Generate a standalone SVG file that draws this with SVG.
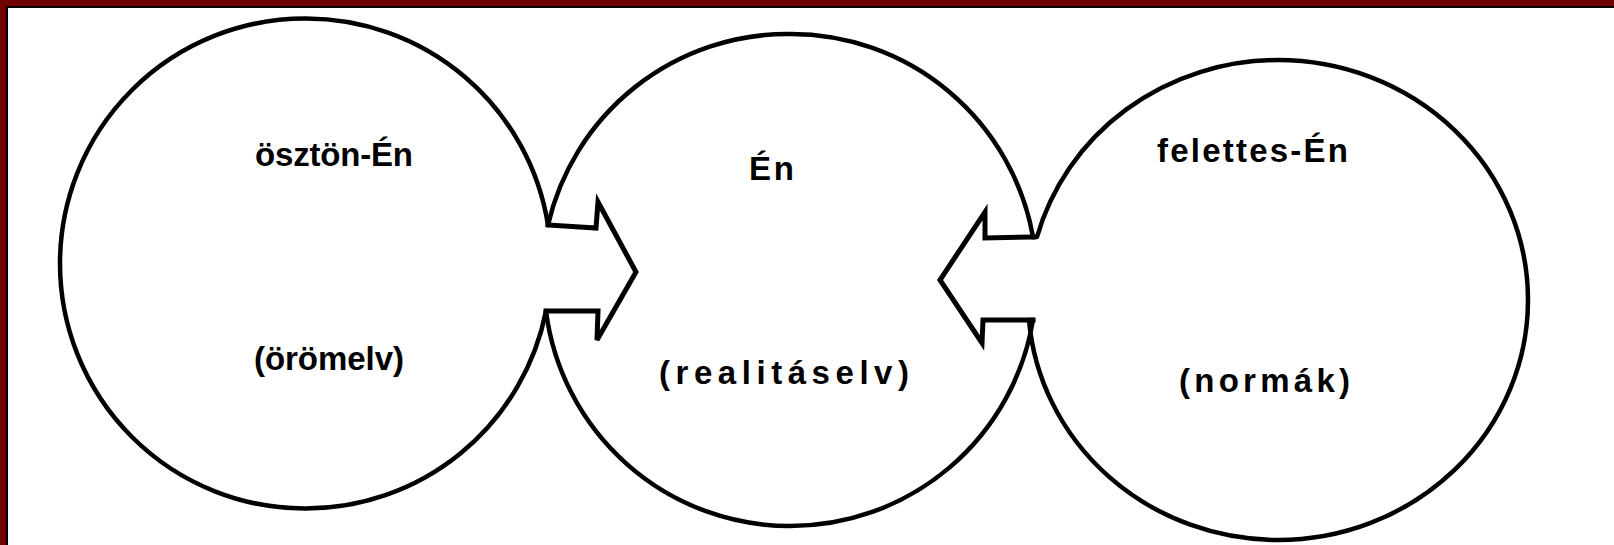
<svg xmlns="http://www.w3.org/2000/svg" width="1614" height="545" viewBox="0 0 1614 545">
<style>
.ring{fill:none;stroke:#000;stroke-width:4.5;stroke-linejoin:round;stroke-linecap:round}
.arrow{fill:none;stroke:#000;stroke-width:5;stroke-linejoin:miter;stroke-linecap:square}
.lbl{font-family:"Liberation Sans",Arial,sans-serif;font-size:33px;font-weight:bold;fill:#000}
</style>
<rect x="0" y="0" width="1614" height="545" fill="#fff"/>
<rect x="0" y="0" width="1614" height="6" fill="#700000"/>
<rect x="0" y="0" width="6" height="545" fill="#700000"/>
<rect x="6" y="6" width="1608" height="2" fill="#000"/>
<rect x="6" y="6" width="2" height="539" fill="#000"/>
<g id="osztonEn">
<path class="ring" d="M548,225 A245,245 0 0 0 305,18.5 A245,245 0 0 0 60,263.5 A245,245 0 0 0 305,508.5 A245,245 0 0 0 546,311"/>
<text class="lbl" x="255" y="166" textLength="158" lengthAdjust="spacing">ösztön-Én</text>
<text class="lbl" x="254" y="370" textLength="150" lengthAdjust="spacing">(örömelv)</text>
</g>
<g id="En">
<path class="ring" d="M548,225 A246,246 0 0 1 790,34 A246,246 0 0 1 1033,237"/>
<path class="ring" d="M1033,320 A246,246 0 0 1 790,526 A246,246 0 0 1 546,311"/>
<text class="lbl" x="749" y="180" textLength="45" lengthAdjust="spacing">Én</text>
<text class="lbl" x="659" y="384" textLength="250" lengthAdjust="spacing">(realitáselv)</text>
</g>
<g id="felettesEn">
<path class="ring" d="M1033,237 L1037,237 A250,240 0 0 1 1278,60 A250,240 0 0 1 1528,300 A250,240 0 0 1 1278,540 A250,240 0 0 1 1029,320 L1033,320"/>
<text class="lbl" x="1157" y="162" textLength="191" lengthAdjust="spacing">felettes-Én</text>
<text class="lbl" x="1179" y="392" textLength="171" lengthAdjust="spacing">(normák)</text>
</g>
<g id="connectors">
<path class="arrow" d="M548,225 L596,228 L598,202 L636,272 L597,340 L598,311 L546,311"/>
<path class="arrow" d="M1033,237 L985,238 L985,212 L940,280 L982,343 L983,320 L1033,320"/>
</g>
</svg>
